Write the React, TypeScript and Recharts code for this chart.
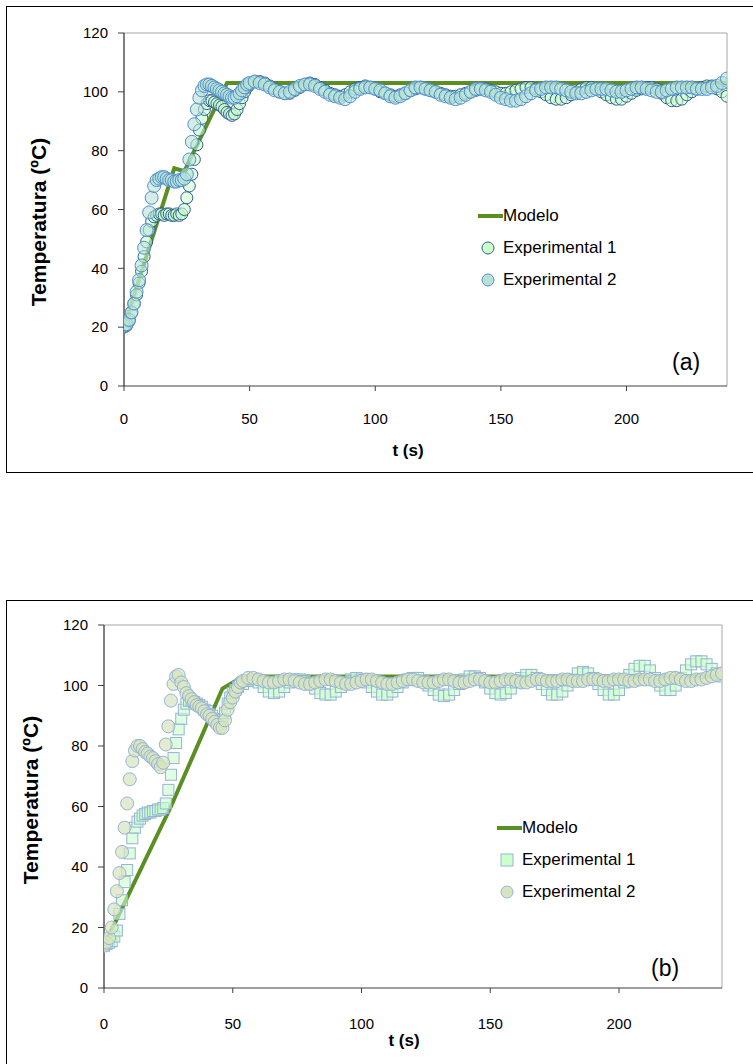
import React from 'react'
import {
  ComposedChart, Line, Scatter, XAxis, YAxis, ReferenceLine, Label,
} from 'recharts'

const FONT = "'Liberation Sans Narrow', 'Liberation Sans', Arial, sans-serif"
const MODEL_GREEN = '#5a8f23'

const xTicks = [0, 50, 100, 150, 200]
const yTicks = [0, 20, 40, 60, 80, 100, 120]

// (a) — [t (s), T (ºC)]
const modelA = [[0, 20], [20, 74], [24, 73], [41, 103], [240, 103]]

const exp1A = [
  [0, 20], [1, 20.5], [2, 22], [3, 25], [4, 28], [5, 31], [6, 35], [7, 39], [8, 44], [9, 49],
  [10, 53], [11, 56], [12, 57.5], [13, 58], [14, 58.5], [15, 58.5], [16, 58], [17, 58.5], [18, 58.5], [19, 58],
  [20, 58], [21, 58.5], [22, 58], [23, 58.5], [24, 60], [25, 64], [26, 68], [27, 72], [28, 77], [29, 82],
  [30, 87], [31, 91], [32, 94], [33, 96], [34, 97], [35, 97], [36, 96.5], [37, 96], [38, 95.5], [39, 95],
  [40, 94], [41, 93], [42, 92.5], [43, 92], [44, 92.5], [45, 94], [46, 96], [47, 98], [48, 100], [49, 101.5],
  [50, 102.5], [52, 103.5], [54, 103.5], [56, 103], [58, 102], [60, 101], [62, 100], [64, 99.5], [66, 99.5], [68, 100.5],
  [70, 101.5], [72, 102.5], [74, 103], [76, 102.5], [78, 101.5], [80, 100.5], [82, 99.5], [84, 99], [86, 98.5], [88, 99],
  [90, 100], [92, 101], [94, 101.5], [96, 102], [98, 101.5], [100, 101], [102, 100], [104, 99.5], [106, 99], [108, 98.5],
  [110, 99], [112, 99.5], [114, 100.5], [116, 101], [118, 101.5], [120, 101], [122, 100.5], [124, 100], [126, 99.5], [128, 99],
  [130, 98.5], [132, 98.5], [134, 99], [136, 99.5], [138, 100], [140, 100.5], [142, 101], [144, 101], [146, 100.5], [148, 100],
  [150, 99.5], [152, 99.5], [154, 100], [156, 100.5], [158, 101], [160, 101.5], [162, 101.5], [164, 101], [166, 100], [168, 99],
  [170, 98], [172, 97.5], [174, 97.5], [176, 98], [178, 99], [180, 100], [182, 101], [184, 101.5], [186, 101.5], [188, 101],
  [190, 100], [192, 99], [194, 98], [196, 97.5], [198, 97.5], [200, 98.5], [202, 99.5], [204, 100.5], [206, 101], [208, 101.5],
  [210, 101.5], [212, 101], [214, 99.5], [216, 98], [218, 97], [220, 97], [222, 97.5], [224, 99], [226, 100], [228, 101],
  [230, 101.5], [232, 102], [234, 102], [236, 101], [238, 100], [240, 98.5],
]

const exp2A = [
  [0, 20.5], [1, 21], [2, 22.5], [3, 25], [4, 28], [5, 32], [6, 36], [7, 41], [8, 47], [9, 53],
  [10, 59], [11, 64], [12, 68], [13, 70], [14, 70.5], [15, 71], [16, 71], [17, 70.5], [18, 70], [19, 70],
  [20, 69.5], [21, 69.5], [22, 70], [23, 70], [24, 70.5], [25, 72], [26, 77], [27, 83], [28, 89], [29, 94],
  [30, 98], [31, 100.5], [32, 102], [33, 102.5], [34, 102.5], [35, 102], [36, 101.5], [37, 101], [38, 100.5], [39, 100],
  [40, 99.5], [41, 99], [42, 98.5], [43, 98], [44, 98], [45, 98.5], [46, 99.5], [47, 100.5], [48, 101.5], [49, 102.5],
  [50, 103], [52, 103.5], [54, 103], [56, 102.5], [58, 101.5], [60, 100.5], [62, 100], [64, 99.5], [66, 100], [68, 101],
  [70, 102], [72, 102.5], [74, 102.5], [76, 102], [78, 101], [80, 100], [82, 99], [84, 98.5], [86, 98], [88, 97.5],
  [90, 98.5], [92, 100], [94, 101], [96, 101.5], [98, 101.5], [100, 101], [102, 100.5], [104, 99.5], [106, 98.5], [108, 98],
  [110, 98.5], [112, 99.5], [114, 100.5], [116, 101.5], [118, 101.5], [120, 101], [122, 100.5], [124, 100], [126, 99], [128, 98.5],
  [130, 98], [132, 97.5], [134, 98], [136, 99], [138, 100], [140, 101], [142, 101], [144, 100.5], [146, 100], [148, 99],
  [150, 98], [152, 97.5], [154, 97], [156, 97], [158, 97.5], [160, 98.5], [162, 99.5], [164, 100.5], [166, 101], [168, 101.5],
  [170, 101.5], [172, 101.5], [174, 101], [176, 100.5], [178, 100], [180, 99.5], [182, 99.5], [184, 100], [186, 100.5], [188, 101],
  [190, 101], [192, 101], [194, 100.5], [196, 100], [198, 100], [200, 100.5], [202, 101], [204, 101.5], [206, 101.5], [208, 101],
  [210, 100.5], [212, 100], [214, 100], [216, 100.5], [218, 101], [220, 101.5], [222, 101.5], [224, 101.5], [226, 101.5], [228, 101],
  [230, 101], [232, 101], [234, 101.5], [236, 102], [238, 103], [240, 104.5],
]

// (b)
const modelB = [[0, 14], [26, 60], [46, 99], [54, 103], [240, 103]]

const exp1B = [
  [0, 14], [1, 14.5], [2, 15], [3, 15.5], [4, 17], [5, 19], [6, 24.5], [7, 29], [8, 35], [9, 39],
  [10, 44.5], [11, 49.5], [12, 53], [13, 55], [14, 56], [15, 57], [16, 57.5], [17, 58], [18, 58], [19, 58.5],
  [20, 58.5], [21, 59], [22, 59], [23, 59.5], [24, 61], [25, 65.5], [26, 70.5], [27, 76], [28, 81], [29, 85.5],
  [30, 89], [31, 92], [32, 94], [33, 95], [34, 95], [35, 94.5], [36, 94], [37, 93.5], [38, 93], [39, 92],
  [40, 91.5], [41, 90.5], [42, 90], [43, 89], [44, 88.5], [45, 88], [46, 88.5], [47, 91], [48, 94], [49, 96],
  [50, 97.5], [51, 98.5], [52, 99.5], [54, 100.5], [56, 101.5], [58, 102], [60, 101], [62, 99.5], [64, 98], [66, 97.5],
  [68, 98], [70, 99.5], [72, 101], [74, 102], [76, 102], [78, 101.5], [80, 100.5], [82, 99], [84, 97.5], [86, 97],
  [88, 97], [90, 98], [92, 99.5], [94, 101], [96, 102], [98, 102.5], [100, 102], [102, 101], [104, 99.5], [106, 98],
  [108, 97], [110, 97], [112, 98], [114, 99.5], [116, 101], [118, 102], [120, 102.5], [122, 102.5], [124, 101.5], [126, 100],
  [128, 98.5], [130, 97], [132, 96.5], [134, 97], [136, 98.5], [138, 100.5], [140, 102], [142, 103], [144, 103], [146, 102.5],
  [148, 101], [150, 99], [152, 97.5], [154, 97], [156, 97.5], [158, 99], [160, 101], [162, 102.5], [164, 103.5], [166, 103.5],
  [168, 102.5], [170, 100.5], [172, 98.5], [174, 97], [176, 97], [178, 98], [180, 100], [182, 102], [184, 104], [186, 104.5],
  [188, 104], [190, 102.5], [192, 100.5], [194, 98.5], [196, 97], [198, 97], [200, 98.5], [202, 101], [204, 103.5], [206, 105.5],
  [208, 106.5], [210, 106.5], [212, 105], [214, 102.5], [216, 100], [218, 98.5], [220, 98.5], [222, 100], [224, 102.5], [226, 105],
  [228, 107], [230, 108], [232, 108], [234, 107], [236, 105.5], [238, 104], [240, 103],
]

const exp2B = [
  [0, 14], [1, 15], [2, 16.5], [3, 20], [4, 26], [5, 32], [6, 38], [7, 45], [8, 53], [9, 61],
  [10, 69], [11, 75], [12, 78.5], [13, 80], [14, 80], [15, 79], [16, 78], [17, 77.5], [18, 76.5], [19, 76],
  [20, 75], [21, 74], [22, 73], [23, 74.5], [24, 80.5], [25, 86.5], [26, 95], [27, 100.5], [28, 103], [29, 103.5],
  [30, 101], [31, 99.5], [32, 97.5], [33, 96.5], [34, 95.5], [35, 94.5], [36, 93.5], [37, 93], [38, 92.5], [39, 91.5],
  [40, 90.5], [41, 90], [42, 89], [43, 88], [44, 87], [45, 86], [46, 86], [47, 88.5], [48, 92], [49, 94.5],
  [50, 96], [51, 98], [52, 99.5], [53, 101], [54, 101.5], [56, 102.5], [58, 102.5], [60, 102], [62, 101.5], [64, 101],
  [66, 101], [68, 101.5], [70, 102], [72, 102], [74, 101.5], [76, 101], [78, 100.5], [80, 100.5], [82, 101], [84, 101.5],
  [86, 102], [88, 102], [90, 101.5], [92, 101], [94, 100.5], [96, 100.5], [98, 101], [100, 101.5], [102, 102], [104, 102],
  [106, 101.5], [108, 101], [110, 100.5], [112, 100.5], [114, 101], [116, 101.5], [118, 102], [120, 102], [122, 101.5], [124, 101],
  [126, 101], [128, 101], [130, 101.5], [132, 102], [134, 102], [136, 101.5], [138, 101], [140, 101], [142, 101.5], [144, 102],
  [146, 102], [148, 101.5], [150, 101], [152, 101], [154, 101.5], [156, 102], [158, 102], [160, 101.5], [162, 101], [164, 101],
  [166, 101.5], [168, 102], [170, 102], [172, 101.5], [174, 101.5], [176, 101.5], [178, 102], [180, 102], [182, 101.5], [184, 101.5],
  [186, 101.5], [188, 102], [190, 102], [192, 102], [194, 101.5], [196, 101.5], [198, 102], [200, 102], [202, 102], [204, 101.5],
  [206, 101.5], [208, 102], [210, 102], [212, 102], [214, 101.5], [216, 101.5], [218, 102], [220, 102.5], [222, 102.5], [224, 102],
  [226, 101.5], [228, 101.5], [230, 102], [232, 102], [234, 102.5], [236, 103], [238, 103.5], [240, 104],
]

const toPts = (arr: number[][]) => arr.map(([t, y]) => ({ t, y }))

type MarkerStyle = { kind: 'circle' | 'square'; fill: string; stroke: string; fillOpacity: number }

const styleA1: MarkerStyle = { kind: 'circle', fill: '#ccffcc', stroke: '#2f5f8f', fillOpacity: 0.55 }
const styleA2: MarkerStyle = { kind: 'circle', fill: '#b7e1d6', stroke: '#4f8fd0', fillOpacity: 0.6 }
const styleB1: MarkerStyle = { kind: 'square', fill: '#ccffcc', stroke: '#95b3d7', fillOpacity: 0.6 }
const styleB2: MarkerStyle = { kind: 'circle', fill: '#d7e4bd', stroke: '#95b3d7', fillOpacity: 0.7 }

function Marker({ cx, cy, s, size }: { cx: number; cy: number; s: MarkerStyle; size: number }) {
  if (cx == null || cy == null) return null
  if (s.kind === 'square') {
    return <rect x={cx - size} y={cy - size} width={size * 2} height={size * 2}
      fill={s.fill} fillOpacity={s.fillOpacity} stroke={s.stroke} strokeWidth={1} />
  }
  return <circle cx={cx} cy={cy} r={size} fill={s.fill} fillOpacity={s.fillOpacity} stroke={s.stroke} strokeWidth={1} />
}

function LegendBox({ s1, s2, left, top }: { s1: MarkerStyle; s2: MarkerStyle; left: number; top: number }) {
  const row = { display: 'flex', alignItems: 'center', height: 32, fontFamily: FONT, fontSize: 17, color: '#000' } as const
  return (
    <div style={{ position: 'absolute', left, top }}>
      <div style={row}>
        <svg width={25} height={10}><line x1={0} y1={5} x2={25} y2={5} stroke={MODEL_GREEN} strokeWidth={4} /></svg>
        <span>Modelo</span>
      </div>
      {[s1, s2].map((s, i) => (
        <div key={i} style={row}>
          <svg width={25} height={16}>
            <Marker cx={10} cy={8} s={{ ...s, fillOpacity: 1 }} size={6} />
          </svg>
          <span>Experimental {i + 1}</span>
        </div>
      ))}
    </div>
  )
}

type PanelProps = {
  tag: string
  model: number[][]
  exp1: number[][]
  exp2: number[][]
  s1: MarkerStyle
  s2: MarkerStyle
  height: number
  margin: { top: number; right: number; left: number; bottom: number }
  yAxisWidth: number
  xAxisHeight: number
  xTickMargin: number
  yTitle: { x: number; y: number }
  xTitle: { x: number; y: number }
  tagPos: { x: number; y: number }
}

function Panel(p: PanelProps) {
  const tick = { fontSize: 15, fill: '#000', fontFamily: FONT }
  return (
    <ComposedChart width={768} height={p.height} margin={p.margin}>
      <XAxis type="number" dataKey="t" domain={[0, 240]} ticks={xTicks} allowDataOverflow
        height={p.xAxisHeight} tick={tick} tickSize={5} tickMargin={p.xTickMargin}
        axisLine={{ stroke: '#404040' }} tickLine={{ stroke: '#404040' }}>
        <Label content={() => (
          <text x={p.xTitle.x} y={p.xTitle.y} textAnchor="middle" fontFamily={FONT} fontSize={17} fontWeight="bold">t (s)</text>
        )} />
      </XAxis>
      <YAxis type="number" dataKey="y" domain={[0, 120]} ticks={yTicks} width={p.yAxisWidth}
        tick={tick} tickSize={6} tickMargin={10}
        axisLine={{ stroke: '#000' }} tickLine={{ stroke: '#404040' }}>
        <Label content={() => (
          <text x={p.yTitle.x} y={p.yTitle.y} textAnchor="middle" dominantBaseline="central"
            transform={`rotate(-90, ${p.yTitle.x}, ${p.yTitle.y})`}
            fontFamily={FONT} fontSize={21} fontWeight="bold">Temperatura (ºC)</text>
        )} />
      </YAxis>
      <ReferenceLine y={120} stroke="#a6a6a6" strokeWidth={1} />
      <ReferenceLine x={240} stroke="#a6a6a6" strokeWidth={1} />
      <Line data={toPts(p.model)} dataKey="y" type="linear" stroke={MODEL_GREEN} strokeWidth={4}
        dot={false} activeDot={false} isAnimationActive={false} legendType="none" />
      <Scatter data={toPts(p.exp1)} dataKey="y" isAnimationActive={false}
        shape={(props: any) => <Marker cx={props.cx} cy={props.cy} s={p.s1} size={p.s1.kind === 'square' ? 5.5 : 6} />} />
      <Scatter data={toPts(p.exp2)} dataKey="y" isAnimationActive={false}
        shape={(props: any) => <Marker cx={props.cx} cy={props.cy} s={p.s2} size={6.5} />} />
      <text x={p.tagPos.x} y={p.tagPos.y} fontFamily={FONT} fontSize={23} fill="#000">{p.tag}</text>
    </ComposedChart>
  )
}

export default function App() {
  const box = { position: 'absolute', left: 6, width: 770, border: '1px solid #000', boxSizing: 'border-box', background: '#fff' } as const
  return (
    <div style={{ position: 'fixed', left: 0, top: 0, width: 753, height: 1064, overflow: 'hidden', background: '#fff' }}>
      <div style={{ ...box, top: 6, height: 467 }}>
        <Panel tag="(a)" model={modelA} exp1={exp1A} exp2={exp2A} s1={styleA1} s2={styleA2}
          height={465} margin={{ top: 26, right: 48, left: 0, bottom: 0 }}
          yAxisWidth={117} xAxisHeight={86} xTickMargin={22}
          yTitle={{ x: 31, y: 215 }} xTitle={{ x: 401, y: 449 }}
          tagPos={{ x: 665, y: 363 }} />
        <LegendBox s1={styleA1} s2={styleA2} left={471} top={193} />
      </div>
      <div style={{ ...box, top: 600, height: 480 }}>
        <Panel tag="(b)" model={modelB} exp1={exp1B} exp2={exp2B} s1={styleB1} s2={styleB2}
          height={470} margin={{ top: 24, right: 53, left: 0, bottom: 7 }}
          yAxisWidth={97} xAxisHeight={76} xTickMargin={25}
          yTitle={{ x: 23, y: 199 }} xTitle={{ x: 397, y: 445 }}
          tagPos={{ x: 644, y: 375 }} />
        <LegendBox s1={styleB1} s2={styleB2} left={490} top={211} />
      </div>
    </div>
  )
}
